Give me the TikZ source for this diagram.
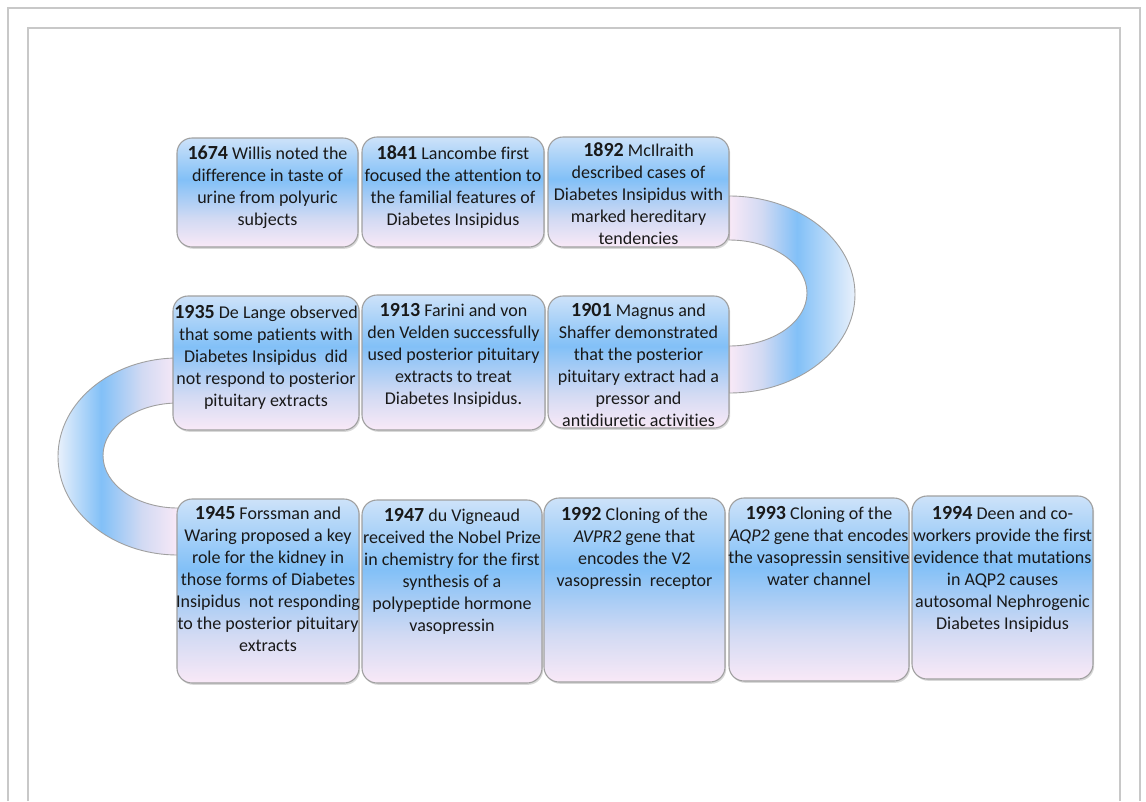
\documentclass[tikz,border=0pt]{standalone}
\usepackage{fontspec}
\setmainfont{Carlito}[Ligatures=NoCommon]
\usetikzlibrary{calc,shadows}
\definecolor{dtop}{RGB}{205,226,249}
\definecolor{dblue}{RGB}{130,192,247}
\definecolor{dlav}{RGB}{210,218,243}
\definecolor{dpink}{RGB}{249,233,247}
\definecolor{dlight}{RGB}{232,240,251}
\definecolor{bordc}{RGB}{160,160,160}
\definecolor{framec}{RGB}{200,200,200}
\definecolor{txtc}{RGB}{25,25,25}
\pgfdeclareverticalshading{boxshade}{100bp}{color(0bp)=(dpink); color(25bp)=(dpink); color(38bp)=(dlav); color(56bp)=(dblue); color(75bp)=(dtop); color(100bp)=(dtop)}
\pgfdeclarehorizontalshading{arcRshade}{100bp}{color(0bp)=(dpink); color(25bp)=(dpink); color(38bp)=(dlav); color(52bp)=(dblue); color(75bp)=(dlight); color(100bp)=(dlight)}
\pgfdeclarehorizontalshading{arcLshade}{100bp}{color(0bp)=(dlight); color(25bp)=(dlight); color(43bp)=(dblue); color(60bp)=(dlav); color(75bp)=(dpink); color(100bp)=(dpink)}
\newcommand\yearb[1]{{\fontsize{20}{22}\selectfont\bfseries #1}}
\tikzset{
  evbox/.style={rounded corners=15pt, draw=bordc, line width=1.1pt, shade, shading=boxshade,
    inner sep=0pt, outer sep=0pt,
    drop shadow={shadow xshift=1.2pt, shadow yshift=-1.8pt, opacity=0.25, fill=black!60}},
  txt/.style={anchor=north, align=center, inner sep=0pt, text=txtc, font=\fontsize{18}{22}\selectfont},
  band/.style={draw=bordc, line width=0.9pt, shade},
  framel/.style={draw=framec, line width=1.5pt}
}
\begin{document}
\begin{tikzpicture}[x=1pt, y=-1pt]
\useasboundingbox (0,0) rectangle (1146,801);
\fill[white] (0,0) rectangle (1146,801);
% frames
\draw[framel] (8,801) -- (8,8) -- (1140,8) -- (1140,801);
\draw[framel] (28,801) -- (28,28) -- (1120,28) -- (1120,801);

\path (267.5,192.5) coordinate (c1674) (453,192) coordinate (c1841) (638.5,192) coordinate (c1892)
      (266,363) coordinate (c1935) (453.5,362.5) coordinate (c1913) (638.5,362) coordinate (c1901)
      (268,591) coordinate (c1945) (452,591.5) coordinate (c1947) (634.5,590) coordinate (c1992)
      (819,589.5) coordinate (c1993) (1002.5,587.5) coordinate (c1994);

% connector bands (drawn first, covered by boxes)
\coordinate (rA) at ($(c1892)+(90.5,4)$);
\coordinate (rB) at ($(c1901)+(90.5,31)$);
\coordinate (rC) at ($(c1901)+(90.5,-16)$);
\coordinate (rD) at ($(c1892)+(90.5,48)$);
\path[band, shading=arcRshade] (rA) arc[start angle=-90, end angle=90, x radius=126, y radius=98.5]
   -- (rC) arc[start angle=90, end angle=-90, x radius=78, y radius=53] -- cycle;

\coordinate (lA) at ($(c1935)+(-88,-5)$);
\coordinate (lB) at ($(c1945)+(-90,-36)$);
\coordinate (lC) at ($(c1945)+(-90,-83)$);
\coordinate (lD) at ($(c1935)+(-88,40)$);
\path[band, shading=arcLshade] (lA) arc[start angle=-90, end angle=-270, x radius=120, y radius=98.5]
   -- (lC) arc[start angle=90, end angle=270, x radius=75, y radius=52.5] -- cycle;

% boxes
\node[evbox, minimum width=181pt, minimum height=109pt] (b1674) at (c1674) {};
\node[evbox, minimum width=182pt, minimum height=110pt] (b1841) at (c1841) {};
\node[evbox, minimum width=181pt, minimum height=110pt] (b1892) at (c1892) {};
\node[evbox, minimum width=186pt, minimum height=134pt] (b1935) at (c1935) {};
\node[evbox, minimum width=183pt, minimum height=135pt] (b1913) at (c1913) {};
\node[evbox, minimum width=181pt, minimum height=132pt] (b1901) at (c1901) {};
\node[evbox, minimum width=182pt, minimum height=184pt] (b1945) at (c1945) {};
\node[evbox, minimum width=180pt, minimum height=183pt] (b1947) at (c1947) {};
\node[evbox, minimum width=181pt, minimum height=184pt] (b1992) at (c1992) {};
\node[evbox, minimum width=180pt, minimum height=183pt] (b1993) at (c1993) {};
\node[evbox, minimum width=181pt, minimum height=183pt] (b1994) at (c1994) {};

% texts
\node[txt] (t1674) at ([yshift=-8pt]b1674.north) {\yearb{1674} Willis noted the\\difference in taste of\\urine from polyuric\\subjects};
\node[txt] (t1841) at ([yshift=-8pt]b1841.north) {\yearb{1841} Lancombe first\\focused the attention to\\the familial features of\\Diabetes Insipidus};
\node[txt] (t1892) at ([yshift=-5pt]b1892.north) {\yearb{1892} McIlraith\\described cases of\\Diabetes Insipidus with\\marked hereditary\\tendencies};
\node[txt] (t1935) at ([yshift=-9pt]b1935.north) {\yearb{1935} De Lange observed\\that some patients with\\Diabetes Insipidus\ \ did\\not respond to posterior\\pituitary extracts};
\node[txt] (t1913) at ([yshift=-8pt]b1913.north) {\yearb{1913} Farini and von\\den Velden successfully\\used posterior pituitary\\extracts to treat\\Diabetes Insipidus.};
\node[txt] (t1901) at ([yshift=-7pt]b1901.north) {\yearb{1901} Magnus and\\Shaffer demonstrated\\that the posterior\\pituitary extract had a\\pressor and\\antidiuretic activities};
\node[txt] (t1945) at ([yshift=-7pt]b1945.north) {\yearb{1945} Forssman and\\Waring proposed a key\\role for the kidney in\\those forms of Diabetes\\Insipidus\ \ not responding\\to the posterior pituitary\\extracts};
\node[txt] (t1947) at ([yshift=-8pt]b1947.north) {\yearb{1947} du Vigneaud\\received the Nobel Prize\\in chemistry for the first\\synthesis of a\\polypeptide hormone\\vasopressin};
\node[txt] (t1992) at ([yshift=-9pt]b1992.north) {\yearb{1992} Cloning of the\\\textit{AVPR2} gene that\\encodes the V2\\vasopressin\ \ receptor};
\node[txt] (t1993) at ([yshift=-8pt]b1993.north) {\yearb{1993} Cloning of the\\\textit{AQP2} gene that encodes\\the vasopressin sensitive\\water channel};
\node[txt] (t1994) at ([yshift=-10pt]b1994.north) {\yearb{1994} Deen and co-\\workers provide the first\\evidence that mutations\\in AQP2 causes\\autosomal Nephrogenic\\Diabetes Insipidus};
\end{tikzpicture}
\end{document}
